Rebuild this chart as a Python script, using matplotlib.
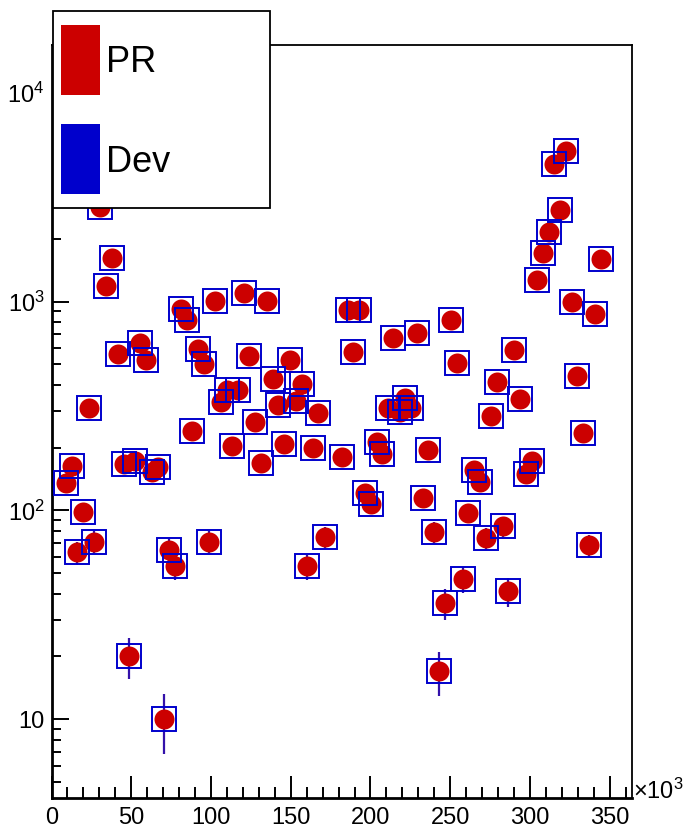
import numpy as np
import matplotlib
matplotlib.use('Agg')
import matplotlib.pyplot as plt
from matplotlib.ticker import MultipleLocator, LogLocator, NullFormatter
from matplotlib.patches import Rectangle

plt.rcParams['font.family'] = ['Liberation Sans', 'DejaVu Sans']
plt.rcParams['mathtext.fontset'] = 'custom'
plt.rcParams['mathtext.rm'] = 'Liberation Sans'
plt.rcParams['mathtext.it'] = 'Liberation Sans:italic'

# x in units of 10^3
x_k = [9.1, 12.9, 16.0, 19.8, 23.3, 26.8, 30.4, 34.2, 37.7, 41.5,
       45.5, 48.8, 52.4, 55.7, 59.4, 63.0, 66.8, 70.3, 73.9, 77.6,
       81.2, 85.0, 88.1, 91.7, 95.4, 98.9, 102.7, 106.3, 110.0, 113.2,
       116.9, 120.5, 123.8, 127.6, 131.3, 135.3, 138.7, 142.2, 146.0, 149.5,
       153.3, 156.9, 160.4, 164.1, 167.3, 171.5, 181.9, 186.1, 189.2, 192.8,
       196.6, 200.1, 203.9, 207.0, 210.7, 214.3, 218.2, 221.6, 225.5, 229.0,
       232.7, 236.1, 239.8, 243.1, 246.7, 250.5, 254.0, 257.8, 261.3, 265.0,
       268.5, 272.2, 275.6, 279.1, 282.9, 286.4, 290.2, 293.7, 297.4, 301.1,
       304.6, 308.0, 311.9, 315.2, 318.8, 322.6, 326.1, 329.7, 333.4, 337.0,
       340.8, 344.3]
pr = [135, 164, 63, 98, 308, 71, 2830, 1190, 1620, 558,
      166, 20, 172, 630, 524, 153, 161, 10, 65, 54,
      919, 820, 240, 591, 500, 71, 1003, 329, 376, 204,
      376, 1104, 549, 265, 168, 1007, 428, 319, 207, 524,
      335, 405, 54, 200, 293, 75, 181, 909, 574, 909,
      121, 107, 213, 187, 309, 670, 296, 345, 309, 703,
      115, 194, 79, 17, 36, 814, 508, 47, 97, 157,
      137, 74, 284, 410, 84, 41, 585, 340, 150, 173,
      1274, 1716, 2153, 4540, 2755, 5237, 996, 441, 234, 68,
      876, 1606]
dev = list(pr)  # Dev points sit on the PR ones

x = np.array(x_k)
pr = np.array(pr, dtype=float)
dev = np.array(dev, dtype=float)

fig = plt.figure(figsize=(6.85, 8.35), dpi=100)
ax = fig.add_axes([0.0752, 0.04395, 0.847, 0.9022])

ax.errorbar(x, pr, yerr=np.sqrt(pr), fmt='none', ecolor='#3311aa', elinewidth=1.6, zorder=1)
ax.plot(x, pr, 'o', color='#cc0000', markersize=14.4, markeredgewidth=0, zorder=2)
ax.plot(x, dev, 's', mfc='none', mec='#0000cc', markersize=17.0, markeredgewidth=1.4, zorder=3)

ax.set_yscale('log')
ax.set_xlim(0, 363.8)
ax.set_ylim(4.19, 16900)

ax.set_xticks(range(0, 351, 50))
ax.xaxis.set_minor_locator(MultipleLocator(10))
ax.set_yticks([10, 100, 1000, 10000],
              labels=['10', r'$\mathregular{10^{2}}$', r'$\mathregular{10^{3}}$', r'$\mathregular{10^{4}}$'])
ax.yaxis.set_minor_locator(LogLocator(base=10, subs=np.arange(2, 10)))
ax.yaxis.set_minor_formatter(NullFormatter())

ax.tick_params(axis='x', which='major', direction='in', length=15.8, width=1.4, labelsize=17, pad=6)
ax.tick_params(axis='x', which='minor', direction='in', length=7.9, width=1.4)
ax.tick_params(axis='y', which='major', direction='in', length=12.2, width=1.4, labelsize=17, pad=5)
ax.tick_params(axis='y', which='minor', direction='in', length=6.5, width=1.4)

ax.spines['bottom'].set_linewidth(2)
ax.spines['left'].set_linewidth(2)
ax.spines['top'].set_linewidth(1.3)
ax.spines['right'].set_linewidth(1.3)

fig.text(633 / 685, 1 - 799 / 835, r'×$\mathregular{10^{3}}$', fontsize=17,
         ha='left', va='baseline')

# legend box drawn by hand, it hangs over the top of the frame
W, H = 685.0, 835.0
fig.patches.append(Rectangle((52.7 / W, 1 - 208.3 / H), (270 - 52.7) / W, (208.3 - 10.7) / H,
                             transform=fig.transFigure, facecolor='white', edgecolor='black',
                             linewidth=1.3, zorder=10))
fig.patches.append(Rectangle((61 / W, 1 - 95 / H), 39 / W, 70 / H, transform=fig.transFigure,
                             facecolor='#cc0000', edgecolor='none', zorder=11))
fig.patches.append(Rectangle((61 / W, 1 - 194 / H), 39 / W, 70 / H, transform=fig.transFigure,
                             facecolor='#0000cc', edgecolor='none', zorder=11))
fig.text(106 / W, 1 - 63 / H, 'PR', fontsize=26, ha='left', va='center', zorder=12)
fig.text(106 / W, 1 - 162 / H, 'Dev', fontsize=26, ha='left', va='center', zorder=12)

fig.savefig('out.png', dpi=100)
